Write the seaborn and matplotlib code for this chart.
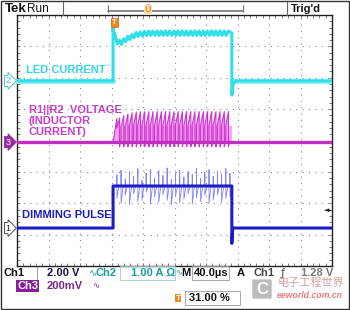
import numpy as np
import pandas as pd
import matplotlib
matplotlib.use("Agg")
import matplotlib.pyplot as plt
import seaborn as sns
from matplotlib.patches import Rectangle, FancyBboxPatch
from matplotlib.lines import Line2D

# ---------------- data (oscilloscope divisions: x 0..10, y -4..4) ----------------
pulse_on = 3.05          # div  (40 µs/div)
pulse_off = 6.82
switch_period = 0.133

# Ch2 : LED current
led_off_level = 1.90
led_on_level = 3.42
led_start_dt = [0.00, 0.04, 0.10, 0.25, 0.45, 0.75, 1.10]
led_start_v = [3.58, 3.40, 3.15, 3.12, 3.25, 3.38, 3.42]
led_ripple = 0.07
led_turnoff_dip = 1.45

# Ch3 : R1||R2 voltage (inductor current)
ind_zero = -0.05
ind_ramp_lo = 0.50
ind_ramp_hi = 0.92
ind_undershoot = -0.20
ind_first_scale = [0.78, 0.86, 0.92, 0.96, 0.98]
ind_duty = 0.65

# Ch1 : dimming pulse
dim_low = -2.79
dim_high = -1.45
dim_spike_up = [0.35, 0.50, 0.22, 0.45, 0.30, 0.55, 0.18, 0.40, 0.52, 0.25, 0.48, 0.33, 0.57, 0.20,
                0.42, 0.50, 0.28, 0.46, 0.36, 0.55, 0.24, 0.44, 0.52, 0.30, 0.47, 0.38, 0.55, 0.40]
dim_spike_dn = [0.40, 0.55, 0.30, 0.60, 0.25, 0.50, 0.45, 0.20, 0.58, 0.35, 0.52, 0.28, 0.46, 0.60,
                0.32, 0.55, 0.42, 0.25, 0.58, 0.38, 0.50, 0.30, 0.55, 0.45, 0.28, 0.52, 0.40, 0.35]
dim_fall_undershoot = -3.28
trig_level = -2.21

# labels
trace_labels = ["LED CURRENT", "R1||R2  VOLTAGE\n(INDUCTOR\nCURRENT)", "DIMMING PULSE"]

# ---------------- figure ----------------
W, H = 350, 310
sns.set_theme(style="white")
plt.rcParams['font.family'] = ['Liberation Sans', 'DejaVu Sans']

fig = plt.figure(figsize=(W / 100, H / 100), dpi=100)
fig.patch.set_facecolor("white")
ax = fig.add_axes([17 / W, 1 - 266 / H, 315 / W, 251 / H])
ax.set_xlim(0, 10)
ax.set_ylim(-4, 4)
ax.set_facecolor("white")

def fx(x):
    return x / W

def fy(y):
    return 1 - y / H

# grid
for gx in range(1, 10):
    ax.plot([gx, gx], [-4, 4], color="#8a8a8a", lw=0.8, ls=(0, (1, 4.7)), zorder=1)
for gy in range(-3, 4):
    ax.plot([0, 10], [gy, gy], color="#8a8a8a", lw=0.8, ls=(0, (1, 4.7)), zorder=1)
ax.set_xticks([])
ax.set_yticks([])
ax.set_xticks(np.arange(0, 10.01, 0.2), minor=True)
ax.set_yticks(np.arange(-4, 4.01, 0.2), minor=True)
ax.tick_params(which="minor", direction="in", length=2.5, width=0.6, color="#666666",
               top=True, bottom=True, left=True, right=True,
               labelbottom=False, labelleft=False)
for s in ax.spines.values():
    s.set_color("#222222")
    s.set_linewidth(1.0)

P = switch_period
ncyc = len(dim_spike_up)

# ---- Ch2 LED current ----
cy_t = [0, pulse_on, pulse_on]
cy_v = [led_off_level, led_off_level, led_start_v[0]]
for k in range(int((pulse_off - pulse_on) / P * 2)):
    t = pulse_on + k * P / 2
    if t >= pulse_off:
        break
    base = np.interp(t - pulse_on, led_start_dt, led_start_v)
    cy_t.append(t)
    cy_v.append(base + (led_ripple if k % 2 else -led_ripple))
cy_t += [pulse_off, pulse_off, pulse_off + 0.04, pulse_off + 0.12, 10]
cy_v += [led_on_level, led_turnoff_dip, led_off_level - 0.1, led_off_level, led_off_level]
cyan = "#2fe0e8"
sns.lineplot(x=[0, pulse_on], y=[led_off_level, led_off_level], sort=False, estimator=None,
             ax=ax, color="#8ff2f6", lw=3.8, zorder=4)
sns.lineplot(x=[pulse_off, 10], y=[led_off_level, led_off_level], sort=False, estimator=None,
             ax=ax, color="#8ff2f6", lw=3.8, zorder=4)
sns.lineplot(x=cy_t, y=cy_v, sort=False, estimator=None, ax=ax, color=cyan, lw=2.2, zorder=5)

# ---- Ch3 inductor current ----
mag = "#d032d0"
fillc = "#f3a0f3"
mg_t = [0, pulse_on, pulse_on + 0.12]
mg_v = [ind_zero, ind_zero, ind_ramp_lo + 0.2]
for k in range(ncyc):
    t0 = pulse_on + 0.12 + k * P
    if t0 + ind_duty * P > pulse_off:
        break
    sc = ind_first_scale[k] if k < len(ind_first_scale) else 1.0
    te = t0 + ind_duty * P
    mg_t += [t0, te, te, te + 0.02, t0 + P]
    mg_v += [ind_ramp_lo * sc, ind_ramp_hi * sc, ind_undershoot, ind_zero, ind_zero]
    ax.fill([t0, te, te, t0], [ind_zero, ind_zero, ind_ramp_hi * sc, ind_ramp_lo * sc],
            color=fillc, lw=0, zorder=3)
mg_t += [pulse_off, pulse_off, 10]
mg_v += [ind_zero, ind_zero, ind_zero]
ax.fill([pulse_on, pulse_on + 0.12, pulse_on + 0.12], [ind_zero, ind_zero, ind_ramp_lo + 0.2],
        color=fillc, lw=0, zorder=3)
ax.add_patch(Rectangle((pulse_on + 0.1, ind_zero), pulse_off - pulse_on - 0.1,
                       ind_ramp_lo * 0.95 - ind_zero, color="#f3a8f3", lw=0, zorder=2.9))
sns.lineplot(x=mg_t, y=mg_v, sort=False, estimator=None, ax=ax, color=mag, lw=0.8, zorder=5)
sns.lineplot(x=[0, 10], y=[ind_zero, ind_zero], sort=False, estimator=None, ax=ax,
             color="#c22ec2", lw=2.4, zorder=6)

# ---- Ch1 dimming pulse ----
blue = "#1d1dc8"
sp_t, sp_v = [], []
for k in range(ncyc):
    t0 = pulse_on + 0.12 + k * P
    if t0 > pulse_off:
        break
    sp_t += [t0, t0, t0, t0 + P / 2]
    sp_v += [dim_high, dim_high + dim_spike_up[k], dim_high - dim_spike_dn[k], dim_high]
sns.lineplot(x=sp_t, y=sp_v, sort=False, estimator=None, ax=ax, color="#8484f0", lw=0.6, zorder=4)
bl_t = [0, pulse_on, pulse_on, pulse_off, pulse_off, pulse_off + 0.03, 10]
bl_v = [dim_low, dim_low, dim_high, dim_high, dim_fall_undershoot, dim_low, dim_low]
sns.lineplot(x=bl_t, y=bl_v, sort=False, estimator=None, ax=ax, color=blue, lw=2.2, zorder=6)

# trace labels
ax.text(0.3, 2.245, trace_labels[0], color="#30d8e4", fontsize=8, fontweight="bold",
        va="center", ha="left", zorder=7)
ax.text(0.37, 0.62, trace_labels[1], color="#c83cc8", fontsize=8, fontweight="bold",
        va="center", ha="left", linespacing=1.15, zorder=7)
ax.text(0.15, -2.37, trace_labels[2], color="#1c1cc0", fontsize=8, fontweight="bold",
        va="center", ha="left", zorder=7)

# trigger level arrow (right)
ax.text(9.82, trig_level, "\u25c4", color="#111111", fontsize=5, ha="center", va="center",
        family="DejaVu Sans", zorder=7)
ax.plot([9.82, 9.95], [trig_level, trig_level], color="#111111", lw=0.8, zorder=7)

# trigger position marker at top
ax.text(pulse_on + 0.05, 3.75, "T", color="white", fontsize=5.5, fontweight="bold", ha="center",
        va="center", zorder=8,
        bbox=dict(boxstyle="square,pad=0.15", fc="#f08a1c", ec="#c06010", lw=0.5))

# channel markers on the left
def chmark(yv, label, fc, ec, tc):
    yp = 140.5 - yv * 31.4
    fig.text(fx(8), fy(yp), label, color=tc, fontsize=6.5, ha="center", va="center",
             bbox=dict(boxstyle="rarrow,pad=0.12", fc=fc, ec=ec, lw=0.6))

chmark(led_off_level, "2", "white", "#40b8c0", "#40b8c0")
chmark(ind_zero, "3", "#9a2aa0", "#9a2aa0", "white")
chmark(dim_low, "1", "white", "#333333", "#222222")

# ---------------- top status bar ----------------
fig.text(fx(5), fy(9), "Tek", fontsize=9.5, fontweight="bold", va="center", color="#111111")
fig.text(fx(27), fy(9), "Run", fontsize=8.5, va="center", color="#111111")
fig.add_artist(Line2D([fx(63), fx(63)], [fy(2), fy(15)], color="#666666", lw=0.8))
fig.add_artist(Line2D([fx(108), fx(243)], [fy(11), fy(11)], color="#777777", lw=1.2))
fig.add_artist(Line2D([fx(108), fx(108)], [fy(5), fy(12)], color="#777777", lw=0.8))
fig.add_artist(Line2D([fx(243), fx(243)], [fy(5), fy(12)], color="#777777", lw=0.8))
fig.text(fx(148), fy(10), "\u0168", color="#f08a1c", fontsize=6.5, fontweight="bold",
         ha="center", va="center",
         bbox=dict(boxstyle="square,pad=0.05", fc="#fbe0c0", ec="none"))
fig.add_artist(Line2D([fx(287), fx(287)], [fy(2), fy(15)], color="#666666", lw=0.8))
fig.text(fx(291), fy(9), "Trig'd", fontsize=8, fontweight="bold", va="center", color="#111111")

# ---------------- bottom readouts ----------------
r1, r2, r3 = 273, 286, 298
dark = "#15154a"
teal = "#1a9a9a"
fig.text(fx(4), fy(r1), "Ch1", fontsize=8, fontweight="bold", va="center", color="#111111")
fig.add_artist(Line2D([fx(37), fx(37)], [fy(266), fy(280)], color="#888888", lw=0.6))
fig.text(fx(47), fy(r1), "2.00 V", fontsize=8, fontweight="bold", va="center", color=dark)
fig.text(fx(89), fy(r1), "\u223f", fontsize=7, va="center", color=teal, family="DejaVu Sans")
fig.text(fx(96), fy(r1), "Ch2", fontsize=8, fontweight="bold", va="center", color=teal)
fig.add_artist(Rectangle((fx(120), fy(280)), fx(55), 14 / H, fill=False, ec="#9ad0d0", lw=0.6))
fig.text(fx(131), fy(r1), "1.00 A \u03a9", fontsize=8, fontweight="bold", va="center", color=teal)
fig.text(fx(175), fy(r1), "\u223f", fontsize=6, va="center", color=teal, family="DejaVu Sans")
fig.text(fx(181), fy(r1), "M", fontsize=8, fontweight="bold", va="center", color="#111111")
fig.add_artist(Rectangle((fx(192), fy(280)), fx(37), 14 / H, fill=False, ec="#999999", lw=0.6))
fig.text(fx(194), fy(r1), "40.0\u00b5s", fontsize=8, fontweight="bold", va="center", color="#111111")
fig.text(fx(237), fy(r1), "A", fontsize=8, fontweight="bold", va="center", color="#111111")
fig.text(fx(253), fy(r1), "Ch1", fontsize=8, fontweight="bold", va="center", color="#444444")
fig.text(fx(281), fy(r1), "\u0192", fontsize=8, va="center", color="#555555", family="DejaVu Sans")
fig.text(fx(301), fy(r1), "1.28 V", fontsize=8, fontweight="bold", va="center", color="#777777")

fig.text(fx(17), fy(r2), "Ch3", fontsize=8, fontweight="bold", va="center", color="white",
         bbox=dict(boxstyle="square,pad=0.05", fc="#8a1e96", ec="none"))
fig.text(fx(47), fy(r2), "200mV", fontsize=8, fontweight="bold", va="center", color="#7a2a86")
fig.text(fx(92), fy(r2), "\u223f", fontsize=6, va="center", color="#7a2a86", family="DejaVu Sans")

fig.text(fx(178), fy(r3), "T", fontsize=6, fontweight="bold", va="center", ha="center", color="white",
         bbox=dict(boxstyle="square,pad=0.1", fc="#f08a1c", ec="none"))
fig.add_artist(Rectangle((fx(185), fy(305)), fx(55), 14 / H, fill=False, ec="#999999", lw=0.6))
fig.text(fx(189), fy(r3), "31.00 %", fontsize=8, fontweight="bold", va="center", color="#111111")

# watermark
fig.add_artist(FancyBboxPatch((fx(253), fy(298)), fx(18), 18 / H,
                              boxstyle="round,pad=0.002", fc="#b0b0b0", ec="none", alpha=0.85))
fig.text(fx(262), fy(289), "C", fontsize=12, fontweight="bold", ha="center", va="center", color="white")
fig.text(fx(278), fy(283), "电子工程世界", fontsize=8, va="center", color="#b05050", alpha=0.55,
         family=["Noto Sans CJK SC", "DejaVu Sans"])
fig.text(fx(277), fy(295), "eeworld.com.cn", fontsize=6.3, fontweight="bold", style="italic",
         va="center", color="#d04848", alpha=0.7)

# outer frame
fig.add_artist(Rectangle((0.0015, 0.002), 0.996, 0.995, fill=False, ec="#333333", lw=1.0))

fig.savefig("out.png", dpi=100)
